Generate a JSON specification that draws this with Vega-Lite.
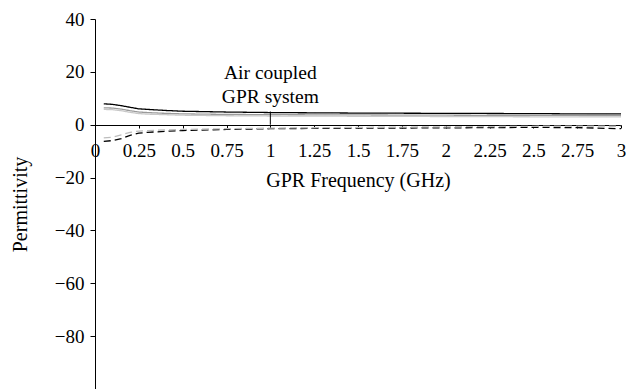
{
  "$schema": "https://vega.github.io/schema/vega-lite/v6.json",
  "width": 526,
  "height": 370,
  "autosize": "none",
  "padding": {"left": 95, "top": 19, "right": 5, "bottom": 0},
  "background": "white",
  "config": {
    "font": "Liberation Serif",
    "view": {"stroke": null},
    "axis": {"grid": false, "domainColor": "black", "tickColor": "black", "labelColor": "black", "titleColor": "black", "labelFont": "Liberation Serif", "titleFont": "Liberation Serif", "labelFontSize": 19, "titleFontSize": 20, "titleFontWeight": "normal"}
  },
  "datasets": {
    "curves": [
      {"f": 0.05, "v": 7.9, "s": "A"}, {"f": 0.1, "v": 7.7, "s": "A"}, {"f": 0.15, "v": 7.2, "s": "A"}, {"f": 0.2, "v": 6.6, "s": "A"}, {"f": 0.25, "v": 6.0, "s": "A"}, {"f": 0.3, "v": 5.8, "s": "A"}, {"f": 0.4, "v": 5.4, "s": "A"}, {"f": 0.5, "v": 5.1, "s": "A"}, {"f": 0.75, "v": 4.8, "s": "A"}, {"f": 1, "v": 4.6, "s": "A"}, {"f": 1.5, "v": 4.4, "s": "A"}, {"f": 2, "v": 4.3, "s": "A"}, {"f": 2.5, "v": 4.2, "s": "A"}, {"f": 2.75, "v": 4.1, "s": "A"}, {"f": 3, "v": 4.1, "s": "A"},
      {"f": 0.05, "v": 6.4, "s": "B"}, {"f": 0.1, "v": 6.3, "s": "B"}, {"f": 0.15, "v": 5.9, "s": "B"}, {"f": 0.2, "v": 5.3, "s": "B"}, {"f": 0.25, "v": 4.8, "s": "B"}, {"f": 0.3, "v": 4.6, "s": "B"}, {"f": 0.4, "v": 4.3, "s": "B"}, {"f": 0.5, "v": 4.1, "s": "B"}, {"f": 0.75, "v": 3.9, "s": "B"}, {"f": 1, "v": 3.8, "s": "B"}, {"f": 1.5, "v": 3.7, "s": "B"}, {"f": 2, "v": 3.6, "s": "B"}, {"f": 2.5, "v": 3.5, "s": "B"}, {"f": 2.75, "v": 3.5, "s": "B"}, {"f": 3, "v": 3.4, "s": "B"},
      {"f": 0.05, "v": 5.8, "s": "C"}, {"f": 0.1, "v": 5.7, "s": "C"}, {"f": 0.15, "v": 5.3, "s": "C"}, {"f": 0.2, "v": 4.7, "s": "C"}, {"f": 0.25, "v": 4.2, "s": "C"}, {"f": 0.3, "v": 4.0, "s": "C"}, {"f": 0.4, "v": 3.8, "s": "C"}, {"f": 0.5, "v": 3.6, "s": "C"}, {"f": 0.75, "v": 3.4, "s": "C"}, {"f": 1, "v": 3.3, "s": "C"}, {"f": 1.5, "v": 3.2, "s": "C"}, {"f": 2, "v": 3.1, "s": "C"}, {"f": 2.5, "v": 3.0, "s": "C"}, {"f": 2.75, "v": 3.0, "s": "C"}, {"f": 3, "v": 3.0, "s": "C"},
      {"f": 0.05, "v": -6.3, "s": "D"}, {"f": 0.1, "v": -6.0, "s": "D"}, {"f": 0.15, "v": -5.3, "s": "D"}, {"f": 0.2, "v": -4.0, "s": "D"}, {"f": 0.25, "v": -3.2, "s": "D"}, {"f": 0.3, "v": -2.9, "s": "D"}, {"f": 0.4, "v": -2.5, "s": "D"}, {"f": 0.5, "v": -2.2, "s": "D"}, {"f": 0.75, "v": -1.8, "s": "D"}, {"f": 1, "v": -1.5, "s": "D"}, {"f": 1.5, "v": -1.3, "s": "D"}, {"f": 2, "v": -1.2, "s": "D"}, {"f": 2.5, "v": -1.0, "s": "D"}, {"f": 2.75, "v": -1.1, "s": "D"}, {"f": 3, "v": -1.5, "s": "D"},
      {"f": 0.05, "v": -5.0, "s": "E"}, {"f": 0.1, "v": -4.7, "s": "E"}, {"f": 0.15, "v": -3.8, "s": "E"}, {"f": 0.2, "v": -2.9, "s": "E"}, {"f": 0.25, "v": -2.4, "s": "E"}, {"f": 0.3, "v": -2.2, "s": "E"}, {"f": 0.4, "v": -2.0, "s": "E"}, {"f": 0.5, "v": -1.8, "s": "E"}, {"f": 0.75, "v": -1.5, "s": "E"}, {"f": 1, "v": -1.3, "s": "E"}, {"f": 1.5, "v": -1.0, "s": "E"}, {"f": 2, "v": -0.8, "s": "E"}, {"f": 2.5, "v": -0.6, "s": "E"}, {"f": 2.75, "v": -0.5, "s": "E"}, {"f": 3, "v": -0.6, "s": "E"}
    ],
    "notes": [
      {"f": 1, "v": 19.7, "label": "Air coupled"},
      {"f": 1, "v": 10.3, "label": "GPR system"}
    ],
    "marker": [{"f": 1, "v0": 0, "v1": 5}]
  },
  "layer": [
    {
      "data": {"name": "curves"},
      "mark": {"type": "line", "strokeWidth": 1.3},
      "encoding": {
        "x": {"field": "f", "type": "quantitative", "scale": {"domain": [0, 3], "nice": false},
          "axis": {"values": [0, 0.25, 0.5, 0.75, 1, 1.25, 1.5, 1.75, 2, 2.25, 2.5, 2.75, 3], "title": "GPR Frequency (GHz)", "offset": -264, "tickSize": 3, "labelPadding": 13, "titlePadding": 10, "labelFlush": false, "labelOverlap": false, "format": ".3~g"}},
        "y": {"field": "v", "type": "quantitative", "scale": {"domain": [-100, 40], "nice": false},
          "axis": {"values": [-80, -60, -40, -20, 0, 20, 40], "title": "Permittivity", "tickSize": 5, "labelPadding": 6, "titlePadding": 24}},
        "detail": {"field": "s"},
        "color": {"field": "s", "type": "nominal", "legend": null, "scale": {"domain": ["A", "B", "C", "D", "E"], "range": ["#000000", "#9a9a9a", "#c8c8c8", "#000000", "#bdbdbd"]}},
        "strokeDash": {"field": "s", "type": "nominal", "legend": null, "scale": {"domain": ["A", "B", "C", "D", "E"], "range": [[1, 0], [1, 0], [1, 0], [7, 4], [7, 4]]}}
      }
    },
    {
      "data": {"name": "marker"},
      "mark": {"type": "rule", "color": "black", "strokeWidth": 1},
      "encoding": {
        "x": {"field": "f", "type": "quantitative"},
        "y": {"field": "v0", "type": "quantitative"},
        "y2": {"field": "v1"}
      }
    },
    {
      "data": {"name": "notes"},
      "mark": {"type": "text", "fontSize": 19.5, "font": "Liberation Serif", "color": "black", "align": "center", "baseline": "middle"},
      "encoding": {
        "x": {"field": "f", "type": "quantitative"},
        "y": {"field": "v", "type": "quantitative"},
        "text": {"field": "label"}
      }
    }
  ]
}
